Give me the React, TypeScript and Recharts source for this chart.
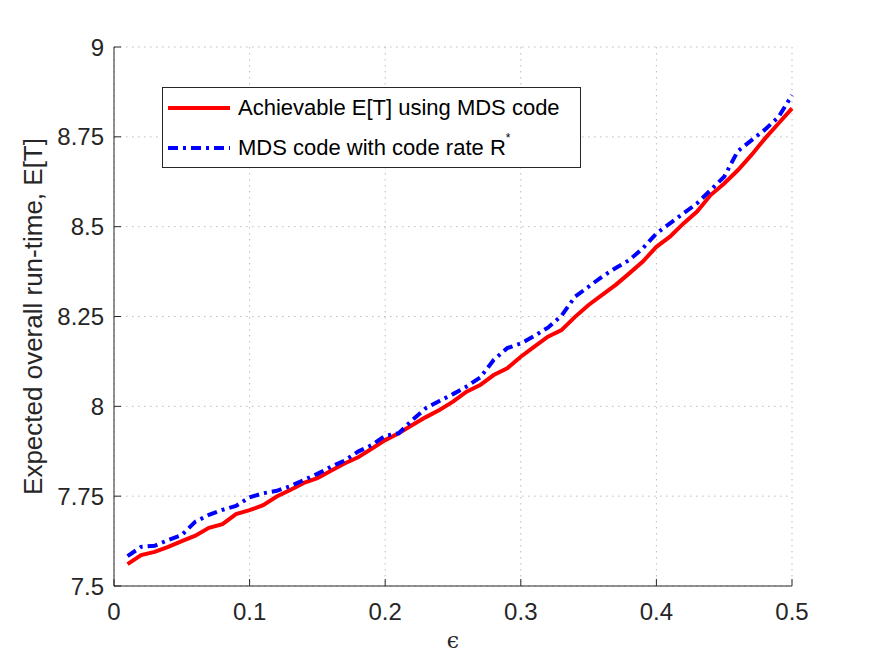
import React from "react";
import {
	LineChart,
	Line,
	XAxis,
	YAxis,
	CartesianGrid,
	Legend,
} from "recharts";

// erasure probability on the horizontal axis
const epsilon = [
	0.01, 0.02, 0.03, 0.04, 0.05, 0.06, 0.07, 0.08, 0.09, 0.1,
	0.11, 0.12, 0.13, 0.14, 0.15, 0.16, 0.17, 0.18, 0.19, 0.2,
	0.21, 0.22, 0.23, 0.24, 0.25, 0.26, 0.27, 0.28, 0.29, 0.3,
	0.31, 0.32, 0.33, 0.34, 0.35, 0.36, 0.37, 0.38, 0.39, 0.4,
	0.41, 0.42, 0.43, 0.44, 0.45, 0.46, 0.47, 0.48, 0.49, 0.5,
];

const achievableET = [
	7.561, 7.586, 7.595, 7.609, 7.625, 7.64, 7.662, 7.672, 7.7, 7.711,
	7.725, 7.749, 7.767, 7.787, 7.8, 7.821, 7.841, 7.858, 7.882, 7.906,
	7.925, 7.948, 7.97, 7.99, 8.013, 8.041, 8.059, 8.087, 8.106, 8.138,
	8.166, 8.194, 8.212, 8.249, 8.282, 8.31, 8.338, 8.37, 8.403, 8.444,
	8.472, 8.509, 8.542, 8.588, 8.62, 8.657, 8.699, 8.745, 8.787, 8.829,
];

const codeRateET = [
	7.583, 7.609, 7.612, 7.628, 7.642, 7.679, 7.698, 7.712, 7.723, 7.747,
	7.758, 7.765, 7.778, 7.795, 7.812, 7.832, 7.849, 7.874, 7.892, 7.918,
	7.925, 7.962, 7.995, 8.015, 8.034, 8.055, 8.08, 8.129, 8.162, 8.175,
	8.196, 8.219, 8.252, 8.305, 8.333, 8.361, 8.385, 8.407, 8.44, 8.481,
	8.509, 8.537, 8.565, 8.602, 8.639, 8.71, 8.74, 8.77, 8.805, 8.866,
];

const xTicks = [0, 0.1, 0.2, 0.3, 0.4, 0.5];
const yTicks = [7.5, 7.75, 8, 8.25, 8.5, 8.75, 9];

const data = epsilon.map((e, i) => ({
	eps: e,
	achievable: achievableET[i],
	codeRate: codeRateET[i],
}));

const AXIS_COLOR = "#262626";
const FONT = "'Liberation Sans', Arial, Helvetica, sans-serif";
const BLUE_DASH = "10 5 3 5";

const tickStyle = { fontSize: 24, fill: AXIS_COLOR, fontFamily: FONT };

const LegendBox = () => (
	<div
		style={{
			width: 419,
			height: 81,
			boxSizing: "border-box",
			border: `1px solid ${AXIS_COLOR}`,
			background: "#fff",
			display: "flex",
			flexDirection: "column",
			justifyContent: "center",
			gap: 2,
			fontFamily: FONT,
			fontSize: 22,
			color: "#000",
		}}
	>
		<div style={{ display: "flex", alignItems: "center", height: 38 }}>
			<svg width={75} height={10} style={{ flex: "none" }}>
				<line x1={5} y1={5} x2={67} y2={5} stroke="#ff0000" strokeWidth={4} />
			</svg>
			<span style={{ whiteSpace: "nowrap" }}>Achievable E[T] using MDS code</span>
		</div>
		<div style={{ display: "flex", alignItems: "center", height: 38 }}>
			<svg width={75} height={10} style={{ flex: "none" }}>
				<line
					x1={5}
					y1={5}
					x2={67}
					y2={5}
					stroke="#0000ff"
					strokeWidth={4}
					strokeDasharray={BLUE_DASH}
				/>
			</svg>
			<span style={{ whiteSpace: "nowrap" }}>
				MDS code with code rate R
				<sup style={{ fontSize: 12, verticalAlign: "top", position: "relative", top: -4 }}>*</sup>
			</span>
		</div>
	</div>
);

const YLabel = ({ viewBox }: any) => {
	const cx = viewBox.x + 42;
	const cy = viewBox.y + viewBox.height / 2;
	return (
		<text
			x={cx}
			y={cy}
			transform={`rotate(-90, ${cx}, ${cy})`}
			textAnchor="middle"
			fontSize={26}
			fontFamily={FONT}
			fill={AXIS_COLOR}
		>
			Expected overall run-time, E[T]
		</text>
	);
};

const XLabel = ({ viewBox }: any) => (
	<text
		x={viewBox.x + viewBox.width / 2}
		y={viewBox.y + 62}
		textAnchor="middle"
		fontSize={22}
		fontFamily="'DejaVu Serif', serif"
		fill={AXIS_COLOR}
	>
		ϵ
	</text>
);

export default function App() {
	return (
		<div style={{ position: "absolute", left: 0, top: 0, width: 875, height: 657, background: "#fff" }}>
			<LineChart
				width={875}
				height={657}
				data={data}
				margin={{ top: 47, right: 83, left: 0, bottom: 0 }}
			>
				<CartesianGrid stroke="#bdbdbd" strokeDasharray="1.5 4.5" />
				<XAxis
					dataKey="eps"
					type="number"
					domain={[0, 0.5]}
					ticks={xTicks}
					height={71}
					tick={tickStyle}
					tickSize={-7}
					tickMargin={24}
					stroke={AXIS_COLOR}
					label={<XLabel />}
				/>
				<XAxis
					xAxisId="top"
					orientation="top"
					dataKey="eps"
					type="number"
					domain={[0, 0.5]}
					ticks={xTicks}
					height={0}
					tickSize={-7}
					tickFormatter={() => ""}
					stroke={AXIS_COLOR}
				/>
				<YAxis
					type="number"
					domain={[7.5, 9]}
					ticks={yTicks}
					width={114}
					tick={tickStyle}
					tickSize={-7}
					tickMargin={17}
					stroke={AXIS_COLOR}
					label={<YLabel />}
				/>
				<YAxis
					yAxisId="right"
					orientation="right"
					type="number"
					domain={[7.5, 9]}
					ticks={yTicks}
					width={0}
					tickSize={-7}
					tickFormatter={() => ""}
					stroke={AXIS_COLOR}
				/>
				<Legend
					layout="horizontal"
					verticalAlign="middle"
					align="center"
					content={<LegendBox />}
					wrapperStyle={{ left: 162, top: 87, width: 419, height: 81 }}
				/>
				<Line
					type="linear"
					dataKey="achievable"
					stroke="#ff0000"
					strokeWidth={4}
					dot={false}
					isAnimationActive={false}
				/>
				<Line
					type="linear"
					dataKey="codeRate"
					stroke="#0000ff"
					strokeWidth={4}
					strokeDasharray={BLUE_DASH}
					dot={false}
					isAnimationActive={false}
				/>
			</LineChart>
		</div>
	);
}
